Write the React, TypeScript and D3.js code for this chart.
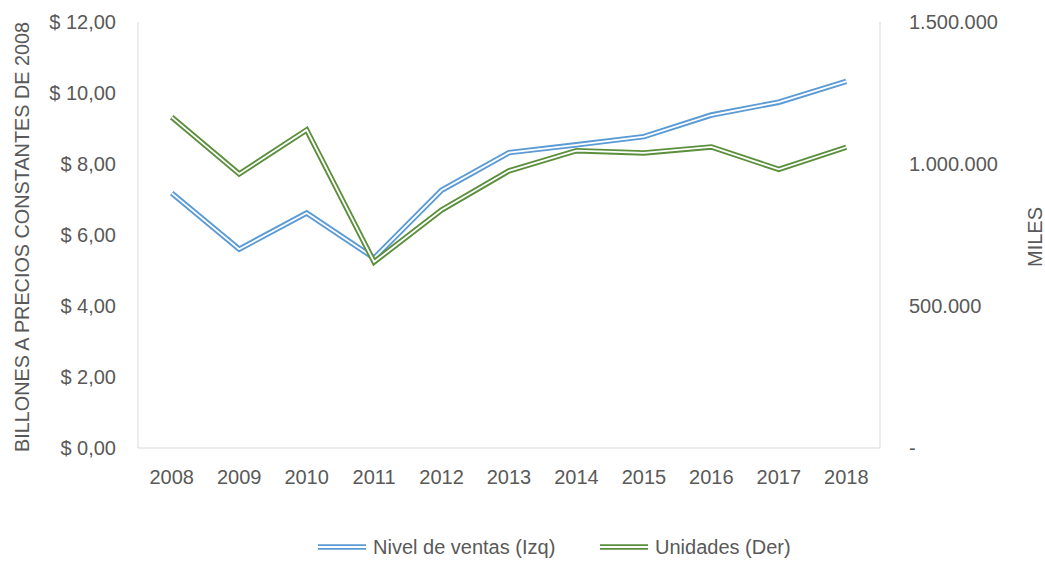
import React from 'react';
import * as d3 from 'd3';

const years = ['2008', '2009', '2010', '2011', '2012', '2013', '2014', '2015', '2016', '2017', '2018'];
// billones a precios constantes de 2008 (eje izquierdo)
const ventas = [7.18, 5.6, 6.62, 5.35, 7.26, 8.32, 8.54, 8.77, 9.38, 9.74, 10.33];
// miles de unidades (eje derecho)
const unidades = [1165000, 965000, 1120000, 655000, 838000, 976000, 1047000, 1039000, 1060000, 981000, 1059000];
const leftTicks = [0, 2, 4, 6, 8, 10, 12];
const rightTicks = [0, 500000, 1000000, 1500000];

const width = 1045;
const height = 561;
const margin = { left: 138, right: 165, top: 22, bottom: 113 };
const font = '"Liberation Sans", Arial, sans-serif';
const fs = 20;
const textColor = '#595959';
const blue = '#5b9bd5';
const green = '#5b8f3c';

const fmtLeft = (v: number) => '$ ' + v.toFixed(2).replace('.', ',');
const fmtRight = (v: number) => (v === 0 ? '-' : d3.format(',')(v).replace(/,/g, '.'));

const App: React.FC = () => {
  const x = d3.scaleBand<string>().domain(years).range([margin.left, width - margin.right]);
  const yL = d3.scaleLinear().domain([0, 12]).range([height - margin.bottom, margin.top]);
  const yR = d3.scaleLinear().domain([0, 1500000]).range([height - margin.bottom, margin.top]);
  const cx = (y: string) => (x(y) ?? 0) + x.bandwidth() / 2;

  const lineL = d3.line<number>().x((_, i) => cx(years[i])).y(d => yL(d));
  const lineR = d3.line<number>().x((_, i) => cx(years[i])).y(d => yR(d));

  const bottom = height - margin.bottom;
  const right = width - margin.right;

  // Excel-style compound line: coloured stroke with a thin white core
  const doubleLine = (d: string, color: string) => (
    <g>
      <path d={d} fill="none" stroke={color} strokeWidth={5.5} strokeLinejoin="miter" />
      <path d={d} fill="none" stroke="#fff" strokeWidth={1.8} strokeLinejoin="miter" />
    </g>
  );

  return (
    <svg width={width} height={height} style={{ position: 'absolute', left: 0, top: 0, background: '#fff' }}>
      {/* plot frame */}
      <line x1={margin.left} x2={margin.left} y1={margin.top} y2={bottom} stroke="#d9d9d9" />
      <line x1={right} x2={right} y1={margin.top} y2={bottom} stroke="#d9d9d9" />
      <line x1={margin.left} x2={right} y1={bottom} y2={bottom} stroke="#d9d9d9" />

      {leftTicks.map(t => (
        <text key={t} x={116} y={yL(t)} dy="0.35em" textAnchor="end" fontFamily={font} fontSize={fs} fill={textColor}>
          {fmtLeft(t)}
        </text>
      ))}
      {rightTicks.map(t => (
        <text key={t} x={909} y={yR(t)} dy="0.35em" textAnchor="start" fontFamily={font} fontSize={fs} fill={textColor}>
          {fmtRight(t)}
        </text>
      ))}
      {years.map(y => (
        <text key={y} x={cx(y)} y={477} dy="0.35em" textAnchor="middle" fontFamily={font} fontSize={fs} fill={textColor}>
          {y}
        </text>
      ))}

      <text transform={`translate(22,${(margin.top + bottom) / 2 + 2}) rotate(-90)`} dy="0.35em" textAnchor="middle"
        fontFamily={font} fontSize={fs} fill={textColor} textLength={430} lengthAdjust="spacingAndGlyphs">
        BILLONES A PRECIOS CONSTANTES DE 2008
      </text>
      <text transform={`translate(1035,237) rotate(-90)`} dy="0.35em" textAnchor="middle"
        fontFamily={font} fontSize={fs} fill={textColor}>
        MILES
      </text>

      {doubleLine(lineL(ventas) ?? '', blue)}
      {doubleLine(lineR(unidades) ?? '', green)}

      {/* legend */}
      <g>
        {doubleLine('M318,547H366', blue)}
        <text x={373} y={547} dy="0.35em" fontFamily={font} fontSize={fs} fill={textColor}>Nivel de ventas (Izq)</text>
        {doubleLine('M600,547H648', green)}
        <text x={655} y={547} dy="0.35em" fontFamily={font} fontSize={fs} fill={textColor}>Unidades (Der)</text>
      </g>
    </svg>
  );
};

export default App;
